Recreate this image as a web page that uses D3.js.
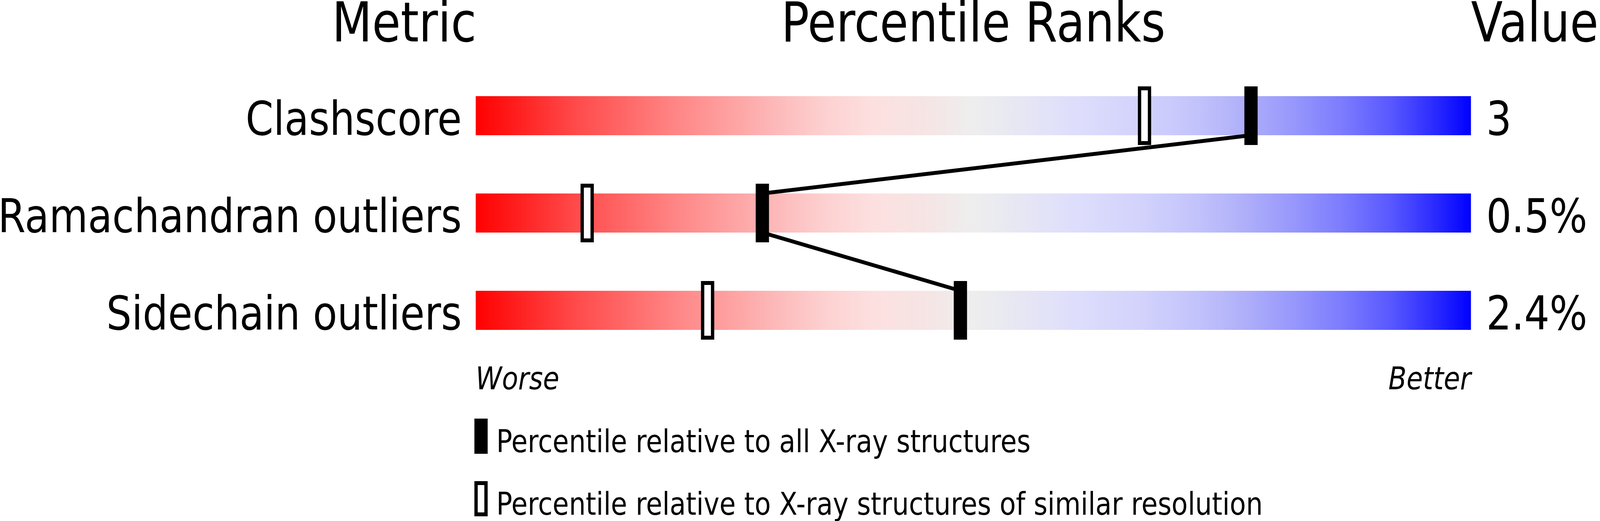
<!DOCTYPE html>
<html>
<head>
<meta charset="utf-8">
<script src="https://cdn.jsdelivr.net/npm/d3@7"></script>
<style>
  html, body { margin: 0; padding: 0; background: #ffffff; overflow: hidden; width: 100%; height: 100%; }
  #chart { width: 100vw; height: 100vh; }
  svg { display: block; width: 100%; height: 100%; }
  text { font-family: "DejaVu Sans", sans-serif; fill: #000; }
</style>
</head>
<body>
<div id="chart"></div>
<script>
// ---- data ----
const metrics = ["Clashscore", "Ramachandran outliers", "Sidechain outliers"];
const valueLabels = ["3", "0.5%", "2.4%"];
const pctAllXray = [77.9, 28.8, 48.7];       // filled markers
const pctSimilarRes = [67.2, 11.2, 23.3];    // hollow markers
const headers = ["Metric", "Percentile Ranks", "Value"];
const axisEnds = ["Worse", "Better"];
const legendLabels = [
  "Percentile relative to all X-ray structures",
  "Percentile relative to X-ray structures of similar resolution"
];
const gradientStops = [
  [0.00, "#ff0000"], [0.10, "#ff4a4a"], [0.20, "#ff8585"], [0.30, "#fdb8b8"],
  [0.35, "#fdd0d0"], [0.40, "#fde0e0"], [0.45, "#f6e4e4"], [0.50, "#eeeeee"],
  [0.55, "#e6e6f4"], [0.60, "#dedefc"], [0.67, "#d2d2fc"], [0.72, "#c4c4fc"],
  [0.77, "#b0b0fa"], [0.82, "#9898fc"], [0.87, "#7c7cfe"], [0.92, "#5858ff"],
  [0.96, "#2e2eff"], [1.00, "#0000ff"]
];

// ---- layout (design space 4823 x 1333, scaled to fill the window) ----
const W = 4823, H = 1333;
const barLeft = 1434, barRight = 4434, barH = 100;

const svg = d3.select("#chart").append("svg")
  .attr("viewBox", `0 0 ${W} ${H}`)
  .attr("preserveAspectRatio", "none");

svg.append("rect").attr("width", W).attr("height", H).attr("fill", "#fff");

const x = d3.scaleLinear().domain([0, 100]).range([barLeft, barRight]);
const y = d3.scalePoint().domain(metrics).range([296, 794]);

// gradient
const defs = svg.append("defs");
const grad = defs.append("linearGradient").attr("id", "slider")
  .attr("x1", "0%").attr("x2", "100%").attr("y1", "0%").attr("y2", "0%");
grad.selectAll("stop").data(gradientStops).join("stop")
  .attr("offset", d => d[0]).attr("stop-color", d => d[1]);

// headers
svg.append("text").attr("x", barLeft + 2).attr("y", 106)
  .attr("text-anchor", "end").attr("font-size", 140).text(headers[0]);
svg.append("text").attr("x", (barLeft + barRight) / 2).attr("y", 106)
  .attr("text-anchor", "middle").attr("font-size", 140).text(headers[1]);
svg.append("text").attr("x", barRight).attr("y", 106)
  .attr("text-anchor", "start").attr("font-size", 140).text(headers[2]);

// bars
svg.selectAll("rect.bar").data(metrics).join("rect")
  .attr("class", "bar")
  .attr("x", x(0)).attr("width", x(100) - x(0))
  .attr("y", d => y(d) - barH / 2).attr("height", barH)
  .attr("fill", "url(#slider)");

// metric labels
svg.selectAll("text.metric").data(metrics).join("text")
  .attr("class", "metric")
  .attr("x", barLeft - 42).attr("y", d => y(d) + 49)
  .attr("text-anchor", "end").attr("font-size", 120)
  .text(d => d);

// value labels
svg.selectAll("text.val").data(valueLabels).join("text")
  .attr("class", "val")
  .attr("x", barRight + 46).attr("y", (d, i) => y(metrics[i]) + 49)
  .attr("text-anchor", "start").attr("font-size", 120)
  .text(d => d);

// connecting line between all-X-ray markers
const linePts = [];
metrics.forEach((m, i) => {
  if (i > 0) linePts.push([x(pctAllXray[i]), y(m) - barH / 2]);
  if (i < metrics.length - 1) linePts.push([x(pctAllXray[i]), y(m) + barH / 2]);
});
svg.append("path")
  .attr("d", d3.line()(linePts))
  .attr("fill", "none").attr("stroke", "#000").attr("stroke-width", 10)
  .attr("stroke-linejoin", "miter");

// hollow markers (similar resolution)
const mW = 40, mH = 150, sw = 10;
svg.selectAll("rect.hollow").data(pctSimilarRes).join("rect")
  .attr("class", "hollow")
  .attr("x", d => x(d) - mW / 2 + sw / 2).attr("width", mW - sw)
  .attr("y", (d, i) => y(metrics[i]) - mH / 2 + sw / 2).attr("height", mH - sw)
  .attr("fill", "#fff").attr("stroke", "#000").attr("stroke-width", sw);

// filled markers (all X-ray)
svg.selectAll("rect.filled").data(pctAllXray).join("rect")
  .attr("class", "filled")
  .attr("x", d => x(d) - mW / 2).attr("width", mW)
  .attr("y", (d, i) => y(metrics[i]) - mH / 2).attr("height", mH)
  .attr("fill", "#000");

// Worse / Better
svg.append("text").attr("x", barLeft).attr("y", 996)
  .attr("font-size", 80).attr("font-style", "italic")
  .attr("text-anchor", "start").text(axisEnds[0]);
svg.append("text").attr("x", barRight).attr("y", 996)
  .attr("font-size", 80).attr("font-style", "italic")
  .attr("text-anchor", "end").text(axisEnds[1]);

// legend
const legY = [1071, 1231];
svg.append("rect").attr("x", 1430).attr("y", legY[0]).attr("width", 40).attr("height", 90)
  .attr("fill", "#000");
svg.append("rect").attr("x", 1435).attr("y", legY[1] + 5).attr("width", 30).attr("height", 80)
  .attr("fill", "#fff").attr("stroke", "#000").attr("stroke-width", 10);
svg.selectAll("text.leg").data(legendLabels).join("text")
  .attr("class", "leg")
  .attr("x", 1496).attr("y", (d, i) => legY[i] + 86)
  .attr("font-size", 80)
  .text(d => d);
</script>
</body>
</html>
